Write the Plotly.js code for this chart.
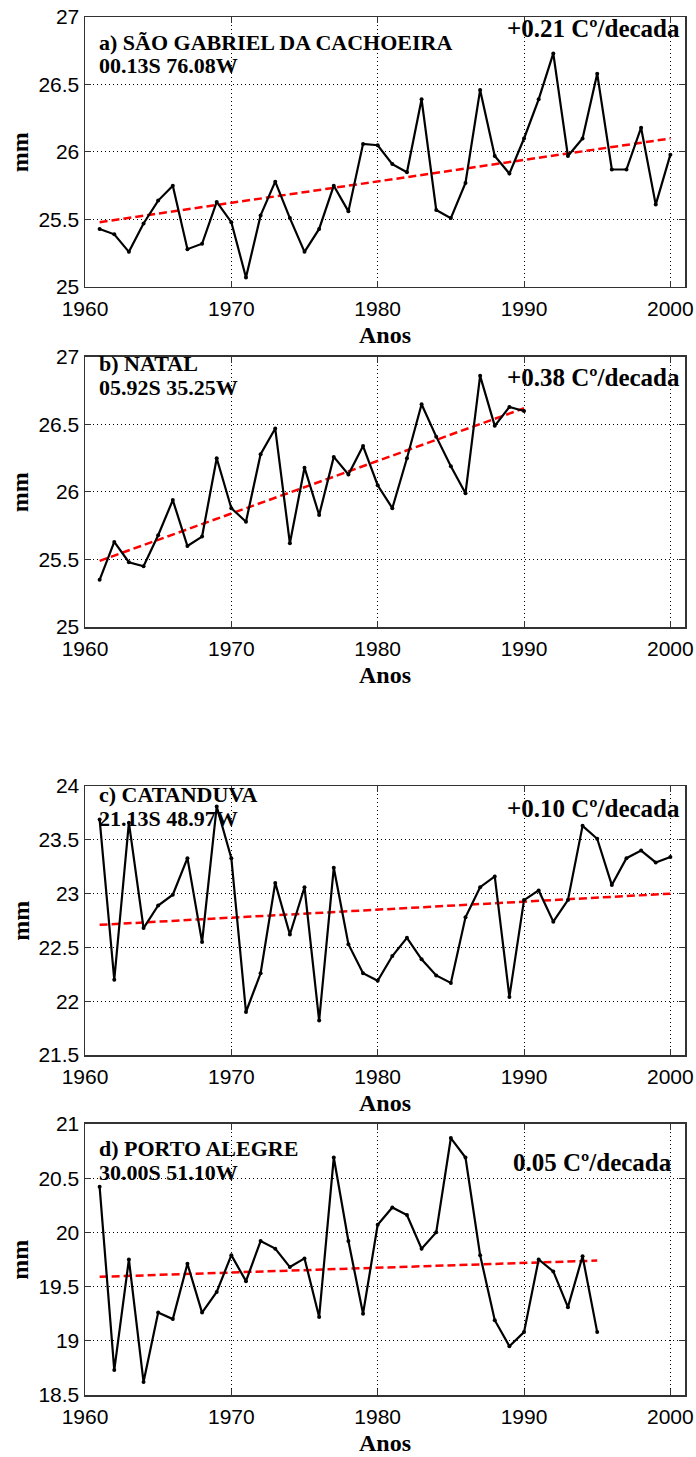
<!DOCTYPE html>
<html>
<head>
<meta charset="utf-8">
<script src="https://cdn.plot.ly/plotly-3.0.1.min.js"></script>
<style>
  html, body { margin: 0; padding: 0; background: #ffffff; }
  #chart { width: 696px; height: 1457px; }
</style>
</head>
<body>
<div id="chart"></div>
<script>
// Annual series per station
const yearsA = [1961,1962,1963,1964,1965,1966,1967,1968,1969,1970,1971,1972,1973,1974,1975,1976,1977,1978,1979,1980,
                1981,1982,1983,1984,1985,1986,1987,1988,1989,1990,1991,1992,1993,1994,1995,1996,1997,1998,1999,2000];
const valuesA = [25.43,25.39,25.26,25.47,25.64,25.75,25.28,25.32,25.63,25.48,25.07,25.53,25.78,25.51,25.26,25.43,25.75,25.56,26.06,26.05,
                 25.91,25.85,26.39,25.57,25.51,25.77,26.46,25.97,25.84,26.10,26.39,26.73,25.97,26.10,26.58,25.87,25.87,26.18,25.61,25.98];

const yearsB = [1961,1962,1963,1964,1965,1966,1967,1968,1969,1970,1971,1972,1973,1974,1975,1976,1977,1978,1979,1980,
                1981,1982,1983,1984,1985,1986,1987,1988,1989,1990];
const valuesB = [25.35,25.63,25.48,25.45,25.68,25.94,25.60,25.67,26.25,25.88,25.78,26.28,26.47,25.62,26.18,25.83,26.26,26.13,26.34,26.05,
                 25.88,26.25,26.65,26.41,26.19,25.99,26.86,26.49,26.63,26.60];

const yearsC = [1961,1962,1963,1964,1965,1966,1967,1968,1969,1970,1971,1972,1973,1974,1975,1976,1977,1978,1979,1980,
                1981,1982,1983,1984,1985,1986,1987,1988,1989,1990,1991,1992,1993,1994,1995,1996,1997,1998,1999,2000];
const valuesC = [23.69,22.20,23.66,22.68,22.89,22.99,23.33,22.55,23.81,23.33,21.90,22.26,23.10,22.62,23.06,21.82,23.24,22.53,22.26,22.19,
                 22.42,22.59,22.39,22.24,22.17,22.78,23.06,23.16,22.04,22.94,23.03,22.74,22.94,23.63,23.51,23.08,23.33,23.40,23.29,23.34];

const yearsD = [1961,1962,1963,1964,1965,1966,1967,1968,1969,1970,1971,1972,1973,1974,1975,1976,1977,1978,1979,1980,
                1981,1982,1983,1984,1985,1986,1987,1988,1989,1990,1991,1992,1993,1994,1995];
const valuesD = [20.42,18.73,19.75,18.62,19.26,19.20,19.71,19.26,19.45,19.79,19.55,19.92,19.85,19.68,19.76,19.22,20.69,19.92,19.25,20.07,
                 20.23,20.16,19.85,20.00,20.87,20.69,19.79,19.19,18.95,19.08,19.75,19.64,19.31,19.78,19.08];

// Linear trend endpoints
const trendYearsA = [1961, 2000], trendA = [25.48, 26.10];
const trendYearsB = [1961, 1990], trendB = [25.49, 26.62];
const trendYearsC = [1961, 2000], trendC = [22.71, 23.00];
const trendYearsD = [1961, 1995], trendD = [19.59, 19.74];

// Panel texts
const stationNames = ['a) SÃO GABRIEL DA CACHOEIRA', 'b) NATAL', 'c) CATANDUVA', 'd) PORTO ALEGRE'];
const stationCoords = ['00.13S 76.08W', '05.92S 35.25W', '21.13S 48.97W', '30.00S 51.10W'];
const trendLabels = ['+0.21 Cº/decada', '+0.38 Cº/decada', '+0.10 Cº/decada', '0.05 Cº/decada'];
const yRanges = [[25, 27], [25, 27], [21.5, 24], [18.5, 21]];
const xTicks = [1960, 1970, 1980, 1990, 2000];

const panels = [
  {x: yearsA, y: valuesA, tx: trendYearsA, ty: trendA},
  {x: yearsB, y: valuesB, tx: trendYearsB, ty: trendB},
  {x: yearsC, y: valuesC, tx: trendYearsC, ty: trendC},
  {x: yearsD, y: valuesD, tx: trendYearsD, ty: trendD}
];

const domains = [[0.8041, 1.0], [0.5573, 0.7533], [0.2467, 0.4419], [0.0, 0.1967]];
const nameY = [[0.907, 0.819], [0.976, 0.888], [0.969, 0.878], [0.911, 0.822]];
const trendY = [0.958, 0.925, 0.918, 0.858];
const trendX = [0.995, 0.995, 0.995, 0.982];

const serif = 'Liberation Serif, Times New Roman, serif';
const sans = 'Liberation Sans, Arial, sans-serif';

const traces = [];
const layout = {
  width: 696, height: 1457,
  margin: {l: 85, r: 11, t: 17, b: 62},
  paper_bgcolor: '#ffffff', plot_bgcolor: '#ffffff',
  showlegend: false,
  annotations: []
};

panels.forEach((p, i) => {
  const n = i === 0 ? '' : String(i + 1);
  const xa = 'x' + n, ya = 'y' + n;
  traces.push({
    x: p.tx, y: p.ty, xaxis: xa, yaxis: ya, type: 'scatter', mode: 'lines',
    line: {color: '#ff0000', width: 2.5, dash: '8px,4px'}, hoverinfo: 'skip'
  });
  traces.push({
    x: p.x, y: p.y, xaxis: xa, yaxis: ya, type: 'scatter', mode: 'lines+markers',
    line: {color: '#000000', width: 2.2},
    marker: {color: '#000000', size: 4, symbol: 'circle'}
  });

  layout['xaxis' + n] = {
    domain: [0, 1], anchor: ya, range: [1960, 2001],
    tickvals: xTicks, ticktext: xTicks.map(String),
    ticks: 'inside', ticklen: 6, tickcolor: '#333333', tickwidth: 1,
    ticklabelstandoff: 2,
    showline: true, mirror: 'ticks', linecolor: '#333333', linewidth: 1.5,
    showgrid: true, gridcolor: '#000000', gridwidth: 1, griddash: '1px,3px',
    zeroline: false, automargin: false,
    tickfont: {family: sans, size: 21, color: '#000000'}
  };
  layout['yaxis' + n] = {
    domain: domains[i], anchor: xa, range: yRanges[i], dtick: 0.5, tick0: 0,
    ticks: 'inside', ticklen: 6, tickcolor: '#333333', tickwidth: 1,
    showline: true, mirror: 'ticks', linecolor: '#333333', linewidth: 1.5,
    showgrid: true, gridcolor: '#000000', gridwidth: 1, griddash: '1px,3px',
    zeroline: false, automargin: false,
    tickfont: {family: sans, size: 21, color: '#000000'}
  };

  const xd = xa + ' domain', yd = ya + ' domain';
  const bold = (s, size) => ({text: '<b>' + s + '</b>', font: {family: serif, size: size, color: '#000000'},
                              showarrow: false});
  layout.annotations.push(Object.assign(bold(stationNames[i], 22),
    {xref: xd, yref: yd, x: 0.02, y: nameY[i][0], xanchor: 'left', yanchor: 'middle'}));
  layout.annotations.push(Object.assign(bold(stationCoords[i], 22),
    {xref: xd, yref: yd, x: 0.02, y: nameY[i][1], xanchor: 'left', yanchor: 'middle'}));
  layout.annotations.push(Object.assign(bold(trendLabels[i], 25),
    {xref: xd, yref: yd, x: trendX[i], y: trendY[i], xanchor: 'right', yanchor: 'middle'}));
  // axis titles
  layout.annotations.push(Object.assign(bold('mm', 24),
    {xref: 'paper', yref: yd, x: -0.108, y: 0.5, xanchor: 'center', yanchor: 'middle', textangle: -90}));
  layout.annotations.push(Object.assign(bold('Anos', 24),
    {xref: xd, yref: yd, x: 0.5, y: -0.178, xanchor: 'center', yanchor: 'middle'}));
});

Plotly.newPlot('chart', traces, layout, {staticPlot: true, displayModeBar: false});
</script>
</body>
</html>
